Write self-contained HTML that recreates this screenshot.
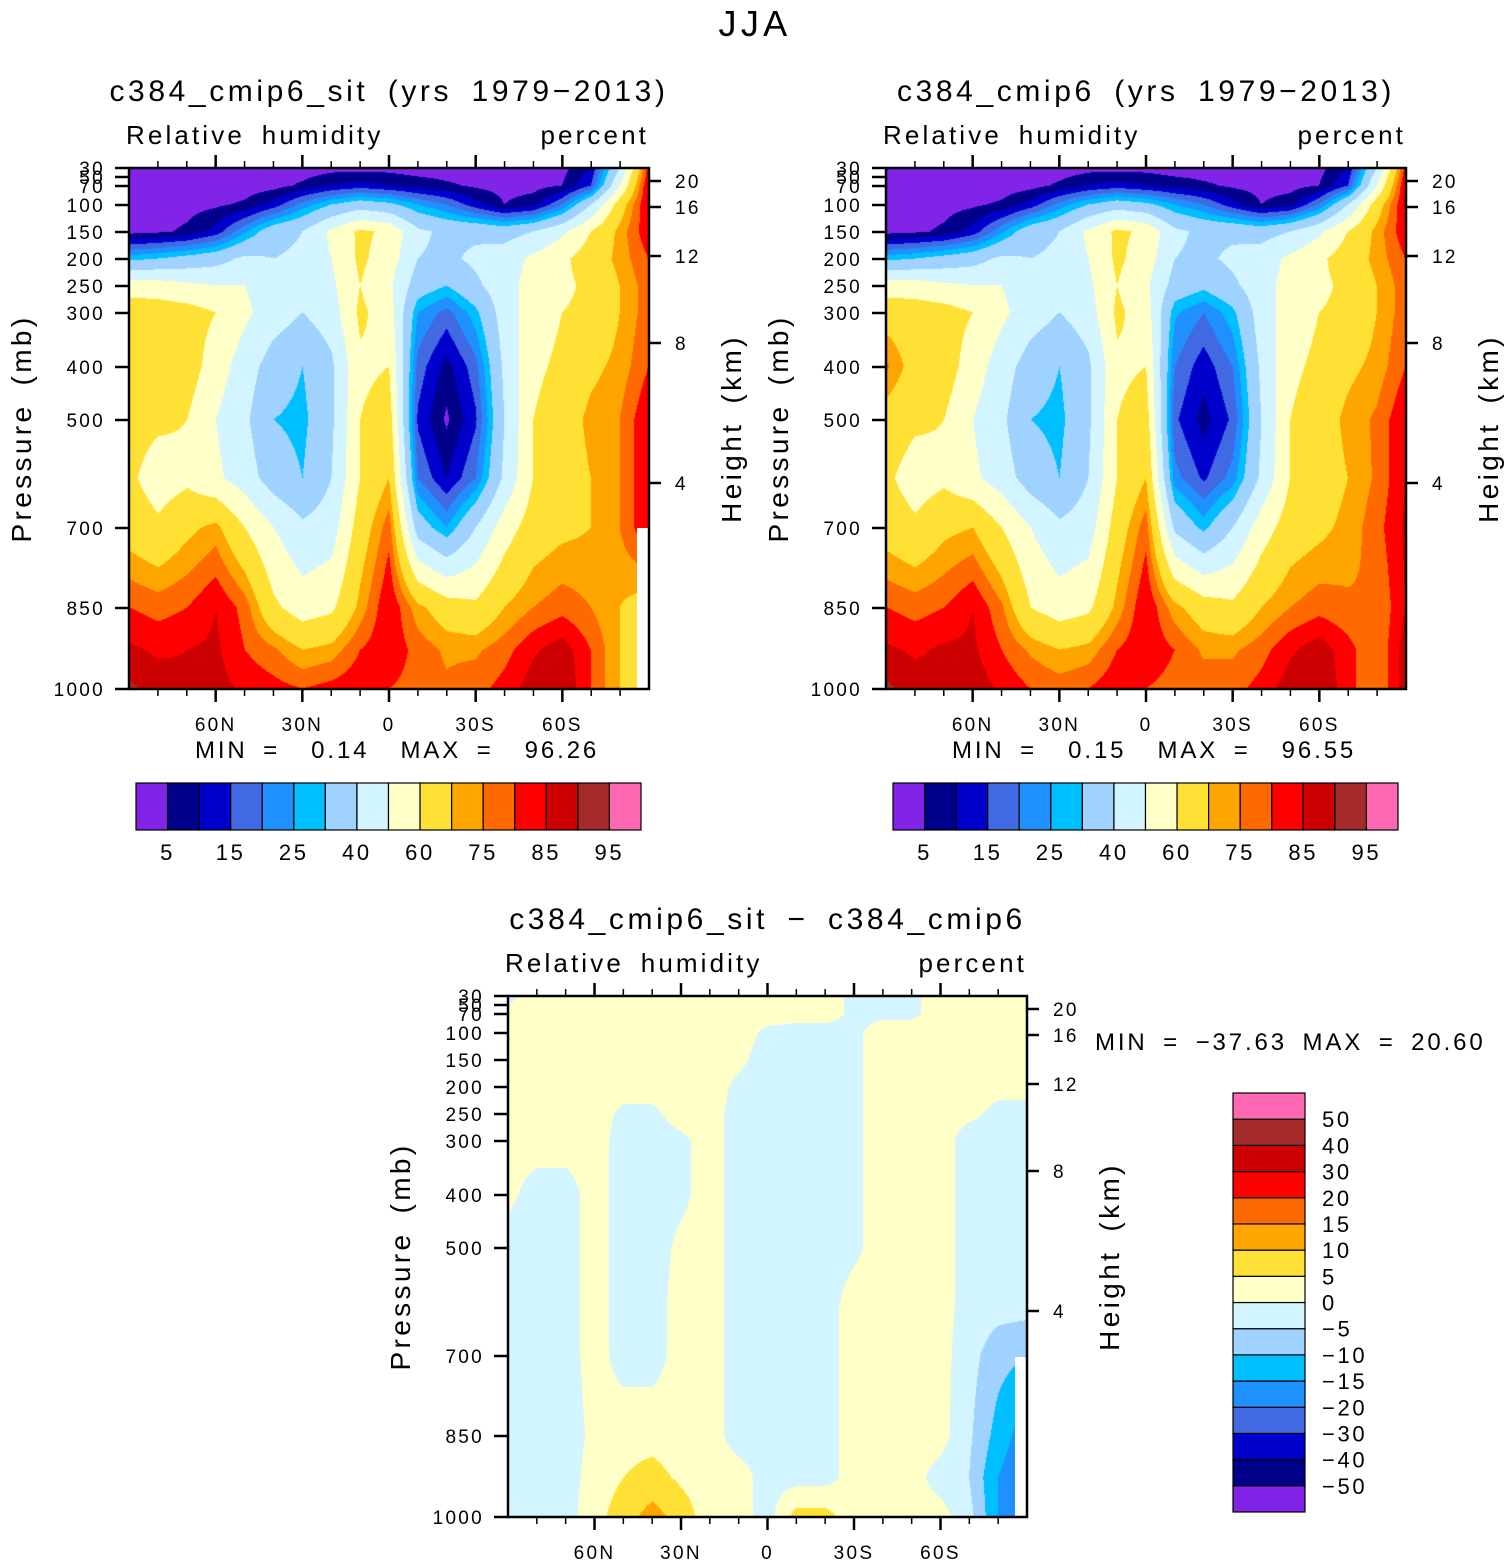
<!DOCTYPE html>
<html><head><meta charset="utf-8">
<style>
body{margin:0;background:#fff;width:1511px;height:1565px;position:relative;overflow:hidden;font-family:"Liberation Sans",sans-serif}
canvas{position:absolute}
svg{position:absolute;left:0;top:0}
svg text{letter-spacing:0.12em;word-spacing:0.25em;white-space:pre}
</style></head>
<body>
<canvas id="c1" width="520" height="521" style="left:129px;top:168px"></canvas>
<canvas id="c2" width="520" height="521" style="left:886px;top:168px"></canvas>
<canvas id="c3" width="519" height="521" style="left:508px;top:996px"></canvas>
<svg id="ov" width="1511" height="1565" font-family="Liberation Sans, sans-serif"></svg>
<script>
// ---- data ----
const latitudes = [90,80,70,60,50,40,30,20,10,0,-10,-20,-30,-40,-50,-60,-70,-80,-90];
const levels = [1000,925,850,700,600,500,400,300,250,200,150,100,70,30];
const pressureTicks = [1000,850,700,500,400,300,250,200,150,100,70,50,30];
const pressureTickFrac = [0,81,161,269,322,376,403,430,457,484,503,512,521];
const heightTicks = [4,8,12,16,20];
const heightTickFrac = [206,346,433,482,508];
const latTickLabels = ["60N","30N","0","30S","60S"];
const latTickValues = [60,30,0,-30,-60];
const rhColors = ["#8224e8","#00008b","#0000cd","#4169e1","#1e90ff","#00bfff","#a0d2ff","#d2f5ff","#ffffc8","#ffe135","#ffa500","#ff6a00","#ff0000","#cc0000","#a52a2a","#ff69b4"];
const rhBounds = [5,10,15,20,25,30,40,50,60,70,75,80,85,90,95];
const rhLabels = ["5","15","25","40","60","75","85","95"];
const diffColors = ["#8224e8","#00008b","#0000cd","#4169e1","#1e90ff","#00bfff","#a0d2ff","#d2f5ff","#ffffc8","#ffe135","#ffa500","#ff6a00","#ff0000","#cc0000","#a52a2a","#ff69b4"];
const diffBounds = [-50,-40,-30,-20,-15,-10,-5,0,5,10,15,20,30,40,50];
const rhSit = [
[91,88,86,87,84,82,80,82,84,80,78,76,78,82,88,90,80,70,62],
[86,84,85,86,80,76,70,72,80,84,78,74,74,78,84,88,80,70,62],
[80,78,80,85,78,62,55,58,72,85,72,65,62,70,75,78,75,70,66],
[66,62,68,72,60,50,42,45,65,78,35,25,40,55,65,68,70,75,85],
[62,55,58,52,45,35,30,40,60,70,20,10,20,42,60,65,70,75,85],
[64,62,60,50,42,30,28,38,60,65,14,4,14,40,60,65,72,75,85],
[68,66,65,55,45,35,30,38,58,60,18,8,18,42,58,62,68,72,80],
[66,65,64,60,52,45,40,45,62,55,25,18,28,45,55,60,62,70,78],
[55,55,52,50,50,45,42,48,60,52,35,30,38,46,54,58,62,70,78],
[28,30,33,36,42,40,42,50,62,55,40,38,42,45,52,58,65,72,80],
[3,4,6,12,24,36,40,52,62,58,42,38,38,36,40,48,60,72,84],
[2,2,3,4,6,12,22,30,35,32,25,20,12,5,8,20,40,65,86],
[2,2,2,2,2,3,6,10,12,10,8,6,4,3,3,5,15,50,86],
[2,2,2,2,2,2,2,3,3,3,2,2,2,2,2,3,10,40,82]];
const rhCmip6 = [
[91,88,86,88,84,80,78,80,84,80,78,78,78,82,88,90,82,75,88],
[86,84,86,86,80,74,70,72,80,84,80,74,74,78,84,88,82,75,88],
[80,78,80,85,76,60,55,58,72,85,72,65,62,70,75,78,76,75,85],
[66,62,68,70,60,50,42,45,65,78,38,28,40,55,65,68,72,78,86],
[62,55,58,52,45,35,30,40,60,70,22,14,22,42,60,65,70,76,85],
[66,62,60,50,42,30,28,38,60,65,16,8,16,40,60,65,72,76,85],
[76,66,65,55,45,35,30,38,58,60,20,12,20,42,58,62,68,72,80],
[66,65,64,60,52,45,40,45,62,55,26,20,28,45,55,60,62,70,78],
[55,55,52,50,50,45,42,48,60,52,36,32,38,46,54,58,62,70,78],
[28,30,33,36,42,40,42,50,62,55,40,38,42,45,52,58,65,72,80],
[3,4,6,12,24,36,40,52,62,58,42,38,38,36,40,48,60,72,84],
[2,2,3,4,6,12,22,30,35,32,25,20,12,5,8,20,40,65,86],
[2,2,2,2,2,3,6,10,12,10,8,6,4,3,3,5,15,50,86],
[2,2,2,2,2,2,2,3,3,3,2,2,2,2,2,3,10,40,82]];
const rhDiff = [
[-2,-2,-2,3,8,12,8,2,2,-2,7,7,2,2,2,2,-3,-15,-22],
[-2,-2,-2,2,5,7,4,2,2,-2,-2,-2,2,2,2,-2,-5,-15,-20],
[-2,-2,-2,1,3,3,2,2,-2,-2,-2,-2,2,2,2,2,-4,-12,-18],
[-2,-2,-2,2,-2,-2,2,2,-2,-2,-2,-2,2,2,2,2,-3,-8,-10],
[-2,-2,-2,2,-2,-2,2,2,-2,-2,-2,-2,2,2,2,2,-2,-3,-3],
[-2,-2,-2,2,-2,-2,1,2,-2,-2,-2,-2,-1,2,2,2,-2,-2,-2],
[1,-2,-2,2,-2,-2,-1,2,-2,-2,-2,-2,-1,2,2,2,-2,-2,-2],
[2,2,2,2,-2,-2,-1,2,-2,-2,-2,-2,-1,2,2,2,-2,-2,-2],
[2,2,2,2,-1,-1,2,2,-2,-2,-2,-2,-1,2,2,2,1,-1,-1],
[2,2,2,2,2,2,2,2,-1,-2,-2,-2,-1,2,2,2,2,1,1],
[2,2,2,2,2,2,2,2,1,-2,-2,-2,-1,2,2,2,2,2,2],
[1,1,2,2,2,2,2,2,2,-1,-2,-2,-1,2,2,2,2,2,2],
[1,2,2,2,2,2,2,2,2,2,2,2,-1,-1,-1,2,2,2,2],
[-1,2,2,2,2,2,2,2,2,2,2,2,-1,-1,-1,2,2,2,2]];

// ---- axis functions ----
function yFracOfP(p){
  for(let k=0;k<pressureTicks.length-1;k++){
    const a=pressureTicks[k],b=pressureTicks[k+1];
    if(p<=a&&p>=b){return pressureTickFrac[k]+(pressureTickFrac[k+1]-pressureTickFrac[k])*(Math.log(a/p)/Math.log(a/b));}
  }
  return 521;
}
function xOfLat(lat,W){return (90-lat)/180*W;}
function binIndex(v,bounds){let i=0;while(i<bounds.length&&v>=bounds[i])i++;return i;}
function hex(c){return [parseInt(c.substr(1,2),16),parseInt(c.substr(3,2),16),parseInt(c.substr(5,2),16)];}

function drawField(id,data,bounds,colors){
  const cv=document.getElementById(id),ctx=cv.getContext('2d');
  const W=cv.width,H=cv.height,img=ctx.createImageData(W,H);
  const lvY=levels.map(yFracOfP);
  const rgb=colors.map(hex);
  for(let py=0;py<H;py++){
    const yb=H-1-py;
    let j=0;while(j<lvY.length-2&&yb>lvY[j+1])j++;
    let t=(yb-lvY[j])/(lvY[j+1]-lvY[j]);t=Math.max(0,Math.min(1,t));
    for(let px=0;px<W;px++){
      const fx=px/(W-1)*(latitudes.length-1);
      let i=Math.min(Math.floor(fx),latitudes.length-2);const s=fx-i;
      const v0=data[j][i]*(1-s)+data[j][i+1]*s;
      const v1=data[j+1][i]*(1-s)+data[j+1][i+1]*s;
      const v=v0*(1-t)+v1*t;
      const c=rgb[binIndex(v,bounds)];
      const o=(py*W+px)*4;img.data[o]=c[0];img.data[o+1]=c[1];img.data[o+2]=c[2];img.data[o+3]=255;
    }
  }
  ctx.putImageData(img,0,0);
}
drawField('c1',rhSit,rhBounds,rhColors);
drawField('c2',rhCmip6,rhBounds,rhColors);
drawField('c3',rhDiff,diffBounds,diffColors);

// ---- overlay ----
const NS="http://www.w3.org/2000/svg",ov=document.getElementById('ov');
function el(tag,attrs,parent,txt){const e=document.createElementNS(NS,tag);for(const k in attrs)e.setAttribute(k,attrs[k]);if(txt!==undefined)e.textContent=txt;(parent||ov).appendChild(e);return e;}
function text(x,y,s,size,anchor,name,extra){const e=el('text',Object.assign({x:x,y:y,'font-size':size,'text-anchor':anchor||'start',fill:'#000'},extra||{}),ov,s);


return e;}

text(755,36,"JJA",36,'middle','main-title');

function panel(X0,Y0,W,H,title,pref,missing){
  const g=el('g',{});
  
  
  if(missing)el('rect',{x:X0+W-12,y:Y0+missing,width:12,height:H-missing,fill:'#fff'},g);
  el('rect',{x:X0,y:Y0,width:W,height:H,fill:'none',stroke:'#000','stroke-width':2.5},g);
  for(let lat=80;lat>=-80;lat-=10){
    const x=X0+xOfLat(lat,W);const major=lat%30===0;
    el('line',{x1:x,x2:x,y1:Y0+H,y2:Y0+H+(major?13:7),stroke:'#000','stroke-width':major?2.5:1.5},g);
    el('line',{x1:x,x2:x,y1:Y0,y2:Y0-(major?13:7),stroke:'#000','stroke-width':major?2.5:1.5},g);
  }
  latTickValues.forEach((v,k)=>text(X0+xOfLat(v,W),Y0+H+42,latTickLabels[k],19,'middle',pref+'-lat-label'));
  pressureTicks.forEach((p,k)=>{
    const y=Y0+H-pressureTickFrac[k];
    el('line',{x1:X0-14,x2:X0,y1:y,y2:y,stroke:'#000','stroke-width':2.5},g);
    text(X0-24,y+7,String(p),19,'end',pref+'-pressure-label');
  });
  heightTicks.forEach((h,k)=>{
    const y=Y0+H-heightTickFrac[k];
    el('line',{x1:X0+W,x2:X0+W+12,y1:y,y2:y,stroke:'#000','stroke-width':2.5},g);
    text(X0+W+26,y+7,String(h),19,'start',pref+'-height-label');
  });
  text(X0+W/2,Y0-67,title,30,'middle',pref+'-title');
  text(X0-3,Y0-24,"Relative humidity",26,'start',pref+'-variable-label');
  text(X0+W,Y0-24,"percent",26,'end',pref+'-units-label');
  text(0,0,"Pressure (mb)",28,'middle',pref+'-y-axis-title',{transform:`translate(${X0-98},${Y0+H/2})rotate(-90)`});
  text(0,0,"Height (km)",28,'middle',pref+'-y2-axis-title',{transform:`translate(${X0+W+92},${Y0+H/2})rotate(-90)`});
}
panel(129,168,520,521,"c384_cmip6_sit (yrs 1979\u22122013)","sit",360);
panel(886,168,520,521,"c384_cmip6 (yrs 1979\u22122013)","cmip6",0);
panel(508,996,519,521,"c384_cmip6_sit \u2212 c384_cmip6","diff",361);

text(195,758,"MIN =  0.14  MAX =  96.26",24,'start','sit-min-max');
text(952,758,"MIN =  0.15  MAX =  96.55",24,'start','cmip6-min-max');
text(1095,1050,"MIN = \u221237.63 MAX = 20.60",24,'start','diff-min-max');

function hbar(X,Y,W,H,pref){
  const bw=W/rhColors.length;
  rhColors.forEach((c,k)=>{const r=el('rect',{x:X+k*bw,y:Y,width:bw,height:H,fill:c,stroke:'#000','stroke-width':1.2});
  
  });
  rhLabels.forEach((s,k)=>text(X+bw*(1+2*k),Y+H+30,s,22,'middle',pref+'-colorbar-label'));
}
hbar(136,783,505,47,'sit');
hbar(893,783,505,47,'cmip6');
(function(){
  const X=1233,Y=1093,W=72,H=419,bh=H/diffColors.length;
  diffColors.forEach((c,k)=>{const r=el('rect',{x:X,y:Y+H-(k+1)*bh,width:W,height:bh,fill:c,stroke:'#000','stroke-width':1.2});
  
  });
  diffBounds.forEach((b,k)=>text(X+89,Y+H-(k+1)*bh+8,String(b).replace('-','\u2212'),22,'start','diff-colorbar-label'));
})();
</script>
</body></html>
